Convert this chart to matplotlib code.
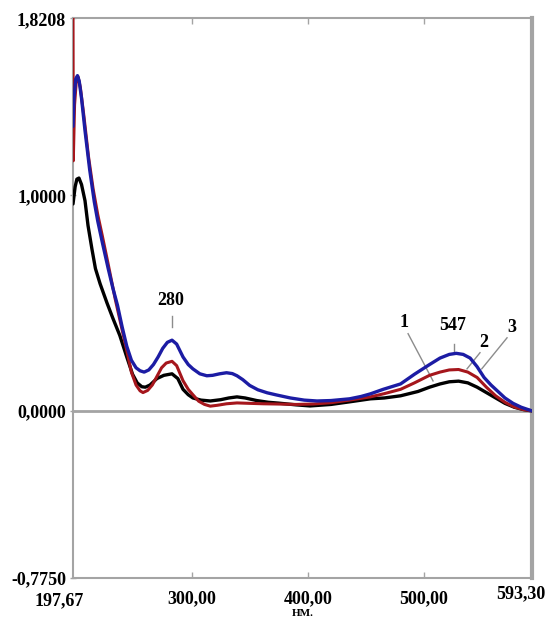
"""
Absorption spectra of three samples, 197.67-593.30 nm
"""

# Imports
import matplotlib
matplotlib.use('Agg')
import matplotlib.pyplot as plt

# Spectra (wavelength in nm, absorbance)
wl_1 = [197.67, 199.5, 201, 202.8, 205, 208, 210.6, 214, 217, 221, 227, 232, 238, 244, 249,
        253, 257, 260, 264, 270, 276, 283, 288, 292.5, 297, 301, 308, 316, 325, 332, 339,
        346, 356, 366, 375, 390, 402, 420, 436, 454, 466, 480, 495, 505, 514, 522, 530, 538,
        546, 554, 562, 570, 578, 586, 593.3]
abs_1 = [0.96, 1.04, 1.075, 1.08, 1.05, 0.975, 0.86, 0.75, 0.66, 0.59, 0.50, 0.43, 0.35,
         0.25, 0.17, 0.13, 0.112, 0.11, 0.12, 0.15, 0.165, 0.172, 0.15, 0.10, 0.075, 0.06,
         0.05, 0.046, 0.052, 0.06, 0.065, 0.06, 0.048, 0.04, 0.036, 0.028, 0.023, 0.03,
         0.042, 0.056, 0.06, 0.07, 0.09, 0.11, 0.125, 0.135, 0.138, 0.13, 0.11, 0.085, 0.06,
         0.035, 0.017, 0.006, 0.0]

wl_2 = [197.67, 197.9, 199, 200.5, 202, 204, 207, 211, 215, 219, 223, 228, 234, 239, 244,
        248, 252, 255.5, 258, 262, 266, 270, 274, 278, 283, 287, 292.5, 297, 301, 306, 311,
        316, 322, 330, 339, 350, 362, 373, 390, 405, 420, 436, 454, 466, 480, 492, 505, 514,
        522, 530, 538, 546, 554, 562, 570, 578, 586, 593.3]
abs_2 = [1.83, 1.16, 1.42, 1.53, 1.55, 1.50, 1.37, 1.18, 1.03, 0.91, 0.81, 0.68, 0.52, 0.40,
         0.28, 0.18, 0.12, 0.093, 0.085, 0.095, 0.12, 0.16, 0.20, 0.222, 0.23, 0.21, 0.14,
         0.10, 0.075, 0.045, 0.03, 0.022, 0.026, 0.033, 0.037, 0.035, 0.033, 0.032, 0.03,
         0.032, 0.038, 0.05, 0.065, 0.08, 0.10, 0.13, 0.165, 0.18, 0.19, 0.192, 0.18, 0.155,
         0.11, 0.07, 0.04, 0.018, 0.006, 0.0]

wl_3 = [197.67, 198.5, 200, 201.5, 203, 205, 208, 212, 216, 219, 223, 228, 232, 236, 240,
        244, 248, 252, 255.5, 259, 263, 267, 271, 275, 279, 283, 287, 292.5, 297, 301, 307,
        313, 318, 324, 330, 335, 339, 344, 350, 357, 365, 373, 385, 397, 408, 420, 436, 446,
        454, 465, 480, 492, 505, 514, 522, 528, 534, 540, 546, 552, 558, 564, 570, 577, 584,
        590, 593.3]
abs_3 = [1.32, 1.45, 1.54, 1.555, 1.53, 1.45, 1.30, 1.12, 0.97, 0.88, 0.78, 0.66, 0.57, 0.49,
         0.39, 0.30, 0.235, 0.20, 0.186, 0.18, 0.19, 0.215, 0.25, 0.29, 0.318, 0.328, 0.31,
         0.25, 0.215, 0.195, 0.172, 0.163, 0.165, 0.172, 0.177, 0.173, 0.163, 0.145, 0.118,
         0.098, 0.084, 0.074, 0.06, 0.05, 0.046, 0.048, 0.056, 0.067, 0.079, 0.10, 0.125,
         0.17, 0.215, 0.245, 0.262, 0.267, 0.262, 0.245, 0.205, 0.155, 0.12, 0.09, 0.06,
         0.035, 0.017, 0.006, 0.0]

x_ticks = [197.67, 300, 400, 500, 593.30]
x_labels = ['197,67', '300,00', '400,00', '500,00', '593,30']
y_ticks = [-0.775, 0.0, 1.0, 1.8208]
y_labels = ['-0,7750', '0,0000', '1,0000', '1,8208']

# Fonts
plt.rcParams['font.family'] = ['Liberation Serif', 'DejaVu Serif']
plt.rcParams['font.weight'] = 'bold'
fs = 13

frame_col = '#a4a4a4'

fig = plt.figure(figsize=(5.49, 6.26), dpi=100)
ax = fig.add_axes([0.133, 0.0767, 0.836, 0.894])

# Curves
ax.axhline(0, color=frame_col, lw=2, zorder=1)
line_kw = dict(solid_joinstyle='round', solid_capstyle='round')
ax.plot(wl_1, abs_1, color='black', lw=2.4, zorder=3, **line_kw)
ax.plot(wl_2, abs_2, color='#a5161c', lw=2.2, zorder=4, **line_kw)
ax.plot(wl_3, abs_3, color='#1c1ca4', lw=2.4, zorder=5, **line_kw)

ax.set_xlim(x_ticks[0], x_ticks[-1])
ax.set_ylim(y_ticks[0], y_ticks[-1])

# Frame
for side in ['left', 'bottom', 'top']:
    ax.spines[side].set_color(frame_col)
    ax.spines[side].set_linewidth(1.5)
ax.spines['right'].set_color(frame_col)
ax.spines['right'].set_linewidth(3)

# Ticks
ax.set_xticks(x_ticks[1:-1])
ax.set_xticklabels(x_labels[1:-1], fontsize=fs, fontweight='bold')
ax.set_yticks(y_ticks)
ax.set_yticklabels(y_labels, fontsize=fs, fontweight='bold')
ax.tick_params(axis='x', direction='in', length=4, width=1, color=frame_col,
               top=True, pad=9)
ax.tick_params(axis='y', direction='inout', length=4, width=1, color=frame_col, pad=3)

# End labels on x axis
ax.annotate(x_labels[0], xy=(x_ticks[0], y_ticks[0]), xytext=(-10, -10),
            textcoords='offset points', ha='center', va='top', fontsize=fs,
            fontweight='bold', annotation_clip=False)
ax.annotate(x_labels[-1], xy=(x_ticks[-1], y_ticks[0]), xytext=(10, -5),
            textcoords='offset points', ha='right', va='top', fontsize=fs,
            fontweight='bold', annotation_clip=False)
ax.set_xlabel('НМ.', fontsize=8, fontweight='bold', labelpad=1)

# Peak marks
lead = dict(color='#8c8c8c', lw=1)
ax.text(282.2, 0.51, '280', ha='center', va='center', fontsize=fs, fontweight='bold')
ax.plot([283, 283], [0.39, 0.44], **lead)
ax.text(525.3, 0.395, '547', ha='center', va='center', fontsize=fs, fontweight='bold')
ax.plot([526.1, 526.1], [0.279, 0.311], **lead)

# Curve numbers
ax.text(483, 0.409, '1', ha='center', va='center', fontsize=fs, fontweight='bold')
ax.plot([486.5, 508], [0.358, 0.139], **lead)
ax.text(552, 0.316, '2', ha='center', va='center', fontsize=fs, fontweight='bold')
ax.plot([548.5, 537.3], [0.27, 0.195], **lead)
ax.text(576, 0.386, '3', ha='center', va='center', fontsize=fs, fontweight='bold')
ax.plot([571.8, 550], [0.339, 0.195], **lead)

plt.savefig('out.png', dpi=100)
plt.close()
